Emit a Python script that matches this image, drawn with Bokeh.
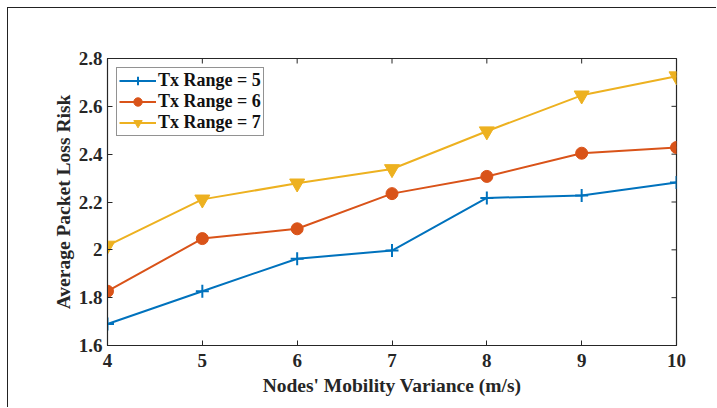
from bokeh.plotting import figure
from bokeh.models import FixedTicker, Legend, LegendItem, Range1d
from bokeh.embed import file_html
from bokeh.resources import INLINE

x_vals = [4, 5, 6, 7, 8, 9, 10]
tx5 = [1.690, 1.827, 1.963, 1.997, 2.217, 2.227, 2.282]
tx6 = [1.827, 2.047, 2.088, 2.235, 2.307, 2.404, 2.428]
tx7 = [2.018, 2.211, 2.278, 2.338, 2.496, 2.646, 2.726]
labels = ["Tx Range = 5", "Tx Range = 6", "Tx Range = 7"]
x_ticks = [4, 5, 6, 7, 8, 9, 10]
y_ticks = [1.6, 1.8, 2.0, 2.2, 2.4, 2.6, 2.8]
y_tick_labels = {1.6: "1.6", 1.8: "1.8", 2.0: "2", 2.2: "2.2", 2.4: "2.4", 2.6: "2.6", 2.8: "2.8"}

FONT = "Liberation Serif"
OFF = 8
X0, X1, Y0, Y1 = 4, 10, 1.6, 2.8
FRAME_L, FRAME_R, FRAME_T, FRAME_B = 107, 676, 58, 345

p = figure(width=717 - OFF, height=408 - OFF, output_backend="svg", toolbar_location=None,
           x_range=Range1d(X0, X1), y_range=Range1d(Y0, Y1),
           min_border_left=FRAME_L - OFF, min_border_right=717 - FRAME_R,
           min_border_top=FRAME_T - OFF, min_border_bottom=408 - FRAME_B)
p.styles = {"border-left": "1.5px solid #222", "border-top": "1.5px solid #222",
            "margin-left": f"{OFF - 1}px", "margin-top": f"{OFF - 1}px"}

p.xgrid.visible = False
p.ygrid.visible = False
p.outline_line_color = "#262626"
p.outline_line_width = 1.2
p.background_fill_color = "white"
p.border_fill_color = "white"

for ax in (p.xaxis[0], p.yaxis[0]):
    ax.major_tick_in = 5
    ax.major_tick_out = 0
    ax.minor_tick_in = 0
    ax.minor_tick_out = 0
    ax.axis_line_color = "#262626"
    ax.major_tick_line_color = "#262626"
    ax.major_label_text_font = FONT
    ax.major_label_text_font_style = "bold"
    ax.major_label_text_font_size = "19px"
    ax.major_label_text_color = "#262626"
    ax.axis_label_text_font = FONT
    ax.axis_label_text_font_style = "bold"
    ax.axis_label_text_font_size = "19.5px"
    ax.axis_label_text_color = "#262626"

p.xaxis.ticker = FixedTicker(ticks=x_ticks)
p.yaxis.ticker = FixedTicker(ticks=y_ticks)
p.yaxis.major_label_overrides = y_tick_labels
p.xaxis.axis_label = "Nodes' Mobility Variance (m/s)"
p.yaxis.axis_label = "Average Packet Loss Risk"
p.xaxis.major_label_standoff = 8
p.yaxis.major_label_standoff = 5
p.xaxis.axis_label_standoff = 5
p.yaxis.axis_label_standoff = 2

# mirrored inward ticks on top and right edges (MATLAB box style)
tick_px = 5
dx = tick_px * (X1 - X0) / (FRAME_R - FRAME_L)
dy = tick_px * (Y1 - Y0) / (FRAME_B - FRAME_T)
p.segment(x0=x_ticks, y0=[Y1] * len(x_ticks), x1=x_ticks, y1=[Y1 - dy] * len(x_ticks),
          line_color="#262626", line_width=1)
p.segment(x0=[X1] * len(y_ticks), y0=y_ticks, x1=[X1 - dx] * len(y_ticks), y1=y_ticks,
          line_color="#262626", line_width=1)

c1, c2, c3 = "#0072BD", "#D95319", "#EDB120"
l1 = p.line(x_vals, tx5, line_color=c1, line_width=2)
m1 = p.scatter(x_vals, tx5, marker="cross", size=13, line_color=c1, line_width=2)
l2 = p.line(x_vals, tx6, line_color=c2, line_width=2)
m2 = p.scatter(x_vals, tx6, marker="circle", size=12, line_color=c2, fill_color=c2, line_width=1)
l3 = p.line(x_vals, tx7, line_color=c3, line_width=2)
m3 = p.scatter(x_vals, tx7, marker="inverted_triangle", size=15, line_color=c3, fill_color=c3, line_width=1)

legend = Legend(items=[LegendItem(label=labels[0], renderers=[l1, m1]),
                       LegendItem(label=labels[1], renderers=[l2, m2]),
                       LegendItem(label=labels[2], renderers=[l3, m3])],
                location="top_left")
legend.margin = 9
legend.padding = 2
legend.spacing = 0
legend.label_height = 21
legend.glyph_height = 21
legend.glyph_width = 37
legend.label_standoff = 2
legend.label_text_font = FONT
legend.label_text_font_style = "bold"
legend.label_text_font_size = "18px"
legend.label_text_color = "#111111"
legend.border_line_color = "#262626"
legend.border_line_width = 1.2
legend.background_fill_alpha = 1.0
p.add_layout(legend)

open("out.html", "w").write(file_html(p, INLINE))
